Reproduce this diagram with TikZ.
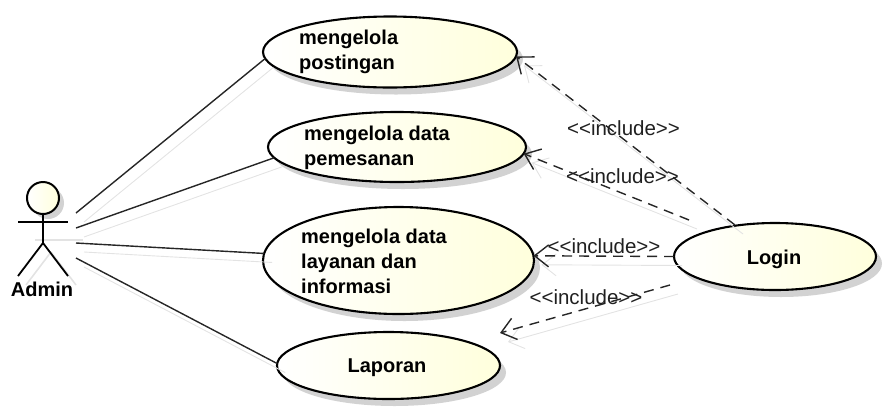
\documentclass[tikz,border=0pt]{standalone}
\usepackage{fontspec}
\setmainfont{Liberation Sans}
\usetikzlibrary{arrows.meta,shapes.geometric,shadows}
\definecolor{cream}{HTML}{FFFFDC}
\definecolor{inktext}{HTML}{202020}
\tikzset{
  usecase/.style={ellipse,draw=black,line width=2.1pt,inner sep=0pt,outer sep=0pt,
    left color=white,middle color=cream!70!white,right color=cream,
    drop shadow={shadow xshift=6pt,shadow yshift=-7pt,fill=gray!70,opacity=.5}},
  uctext/.style={font=\fontsize{20}{25}\selectfont\bfseries,align=left,inner sep=0pt,text=black},
  inctext/.style={font=\fontsize{20.5}{24}\selectfont,inner sep=0pt,text=inktext},
  assoc/.style={line width=1.4pt,black!85},
  incl/.style={line width=1.4pt,black!85,dash pattern=on 10pt off 7pt,-{Straight Barb[length=14pt,width=22pt,line width=1.4pt]}},
  ghost/.style={line width=.9pt,gray!22,transform canvas={xshift=8pt,yshift=-9pt}},
  ghostincl/.style={ghost,-{Straight Barb[length=14pt,width=22pt,line width=.9pt]}}
}
\begin{document}
\begin{tikzpicture}[x=1pt,y=-1pt]
  \useasboundingbox (0,0) rectangle (883,416);

  \node[usecase,minimum width=254pt,minimum height=71pt] (posting) at (390,52) {};
  \node[usecase,minimum width=258pt,minimum height=70pt] (pesan) at (397,147) {};
  \node[usecase,minimum width=271pt,minimum height=107pt] (layanan) at (398.5,260.5) {};
  \node[usecase,minimum width=223pt,minimum height=67pt] (laporan) at (388.5,365.5) {};
  \node[usecase,minimum width=202pt,minimum height=67pt] (login) at (775,256.5) {};

  \node[uctext,anchor=west] (tposting) at (299,52) {mengelola\\postingan};
  \node[uctext,anchor=west] (tpesan) at (304,148) {mengelola data\\pemesanan};
  \node[uctext,anchor=west] (tlayanan) at (301,261) {mengelola data\\layanan dan\\informasi};
  \node[uctext] (tlaporan) at (387,368) {Laporan};
  \node[uctext] (tlogin) at (774,259) {Login};

  % actor
  \draw[ghost,line width=1.6pt] (27,231) -- (75,231);
  \draw[ghost,line width=1.6pt] (43,243) -- (18,276);
  \draw[ghost,line width=1.6pt] (43,243) -- (68,276);
  \node[circle,draw=black,line width=2pt,minimum size=32pt,inner sep=0pt,outer sep=0pt,
    left color=white,right color=cream,
    drop shadow={shadow xshift=5pt,shadow yshift=-5pt,fill=gray!70,opacity=.5}] (head) at (43,198) {};
  \coordinate (hip) at (43,243);
  \coordinate (armL) at (18,222);
  \coordinate (armR) at (68,222);
  \coordinate (legL) at (18,276);
  \coordinate (legR) at (68,276);
  \draw[line width=1.8pt] (head) -- (hip) -- (legL);
  \draw[line width=1.8pt] (hip) -- (legR);
  \draw[line width=1.8pt] (armL) -- (armR);
  \node[uctext] (admin) at (42,289.5) {Admin};

  \coordinate (a1) at (76,213);
  \coordinate (a2) at (76,228);
  \coordinate (a3) at (76,243);
  \coordinate (a4) at (76,258);
  \foreach \from/\to in {a1/posting.183,a2/pesan.185,a3/layanan.177,a4/laporan.179}{
    \draw[ghost] (\from) -- (\to);
    \draw[assoc] (\from) -- (\to);
  }

  \coordinate (l1) at (735,225);
  \coordinate (l2) at (689,220);
  \coordinate (l4) at (670,285);
  \coordinate (tipLap) at (500,333);
  \foreach \from/\to in {l1/posting.-2,l2/pesan.-3,login.west/layanan.2,l4/tipLap}{
    \draw[ghostincl] (\from) -- (\to);
    \draw[incl] (\from) -- (\to);
  }

  \node[inctext] (inc1) at (623.5,128) {<{}<include>{}>};
  \node[inctext] (inc2) at (622.5,176.5) {<{}<include>{}>};
  \node[inctext] (inc3) at (604,246.5) {<{}<include>{}>};
  \node[inctext] (inc4) at (586,297) {<{}<include>{}>};
\end{tikzpicture}
\end{document}
